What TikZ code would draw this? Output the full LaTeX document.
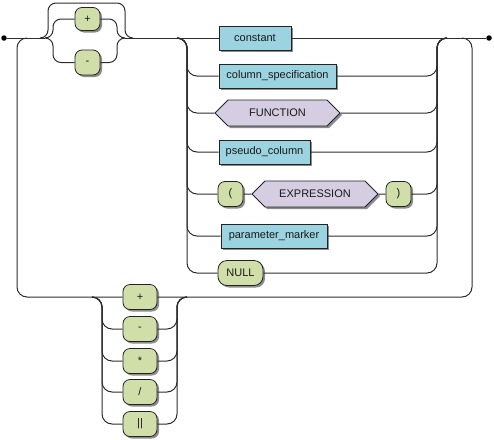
\documentclass[tikz,border=0pt]{standalone}
\usepackage{fontspec}
\setmainfont{Liberation Sans}
\usetikzlibrary{shapes.symbols,shadows}
\definecolor{ntblue}{RGB}{155,212,224}
\definecolor{tgreen}{RGB}{208,222,170}
\definecolor{hexpurple}{RGB}{213,205,226}
\definecolor{railc}{RGB}{45,45,45}
\definecolor{shadowc}{RGB}{140,140,140}
\definecolor{boxline}{RGB}{35,35,35}
\begin{document}
\begin{tikzpicture}[x=1pt,y=-1pt,
  rail/.style={draw=railc, line width=1pt, rounded corners=10pt},
  shad/.style={drop shadow={shadow xshift=2pt, shadow yshift=-2pt, fill=shadowc, opacity=1}},
  lbl/.style={font=\fontsize{11}{13}\selectfont, text=black!90},
  ntbox/.style={rectangle, draw=boxline, fill=ntblue, line width=0.8pt, minimum height=24pt, inner sep=0pt, shad, lbl},
  tbox/.style={rectangle, rounded corners=7pt, draw=boxline, fill=tgreen, line width=0.8pt, minimum height=25pt, inner sep=0pt, shad, lbl},
  hexbox/.style={signal, signal to=east and west, signal pointer angle=90, draw=boxline, fill=hexpurple, line width=0.8pt, minimum height=26pt, inner sep=0pt, shad, lbl},
  dotn/.style={circle, fill=black, inner sep=0pt, minimum size=5.5pt}
]
\useasboundingbox (0,0) rectangle (494,439);

% end points
\node[dotn] (st) at (4,38) {};
\node[dotn] (en) at (489,38) {};

% junction coordinates
\coordinate (lpJ) at (27,38);
\coordinate (oA) at (40,38);
\coordinate (oAv) at (48,38);
\coordinate (oAt) at (48,3);
\coordinate (oDt) at (125,3);
\coordinate (oDv) at (125,38);
\coordinate (oD) at (133,38);
\coordinate (oB) at (45,38);
\coordinate (oBv) at (53,38);
\coordinate (oCv) at (117,38);
\coordinate (oC) at (125,38);
\coordinate (cA) at (177,38);
\coordinate (cV) at (187,38);
\coordinate (cW) at (437,38);
\coordinate (cB) at (447,38);
\coordinate (lpS) at (462,38);
\coordinate (lR1) at (472,38);
\coordinate (lR2) at (472,297);
\coordinate (lL2) at (17,297);
\coordinate (lL1) at (17,38);
\coordinate (qA) at (92,297);
\coordinate (qV) at (102,297);
\coordinate (qW) at (177,297);
\coordinate (qB) at (187,297);

% sign
\node[tbox, minimum width=25pt, minimum height=23pt] (sp) at (87.5,19) {+};
\node[tbox, minimum width=25pt, minimum height=25pt] (sm) at (87.5,62.5) {-};

% choice
\node[ntbox, minimum width=72pt] (const) at (255,38) {constant};
\node[ntbox, minimum width=117pt] (colspec) at (277.5,76) {column\_specification};
\node[hexbox, minimum width=125pt] (func) at (277.5,113) {FUNCTION};
\node[ntbox, minimum width=91pt] (pseudo) at (264.5,152) {pseudo\_column};
\node[tbox, minimum width=25pt] (lpar) at (230.5,194) {(};
\node[hexbox, minimum width=126pt] (expr) at (315,194) {EXPRESSION};
\node[tbox, minimum width=25pt] (rpar) at (398.5,194) {)};
\node[ntbox, minimum width=106pt] (pmark) at (274,236) {parameter\_marker};
\node[tbox, minimum width=45pt, rounded corners=9pt] (null) at (240.5,273) {NULL};

% operators
\node[tbox, minimum width=34pt] (op1) at (140,297) {+};
\node[tbox, minimum width=34pt] (op2) at (140,329) {-};
\node[tbox, minimum width=34pt] (op3) at (140,361) {*};
\node[tbox, minimum width=34pt] (op4) at (140,392) {/};
\node[tbox, minimum width=34pt] (op5) at (140,424) {||};

% main line
\draw[rail] (st) -- (oB);
\draw[rail] (oC) -- (const);
\draw[rail] (const) -- (en);

% optional sign
\draw[rail, rounded corners=8pt] (oA) -- (oAv) -- (oAt) -- (oDt) -- (oDv) -- (oD);
\draw[rail, rounded corners=8pt] (oB) -- (oBv) |- (sp.west);
\draw[rail, rounded corners=8pt] (sp.east) -| (oCv) -- (oC);
\draw[rail, rounded corners=8pt] (oB) -- (oBv) |- (sm.west);
\draw[rail, rounded corners=8pt] (sm.east) -| (oCv) -- (oC);

% choice branches
\foreach \b in {colspec,func,pseudo,lpar,pmark,null}{
  \draw[rail] (cA) -- (cV) |- (\b.west);
}
\foreach \b in {colspec,func,pseudo,rpar,pmark,null}{
  \draw[rail] (\b.east) -| (cW) -- (cB);
}
\draw[rail] (lpar) -- (expr);
\draw[rail] (expr) -- (rpar);

% loop
\draw[rail] (lpS) -- (lR1) -- (lR2) -- (op1.east);
\draw[rail] (op1.west) -- (lL2) -- (lL1) -- (lpJ);
\foreach \b in {op2,op3,op4,op5}{
  \draw[rail] (qA) -- (qV) |- (\b.west);
  \draw[rail] (\b.east) -| (qW) -- (qB);
}
\end{tikzpicture}
\end{document}
